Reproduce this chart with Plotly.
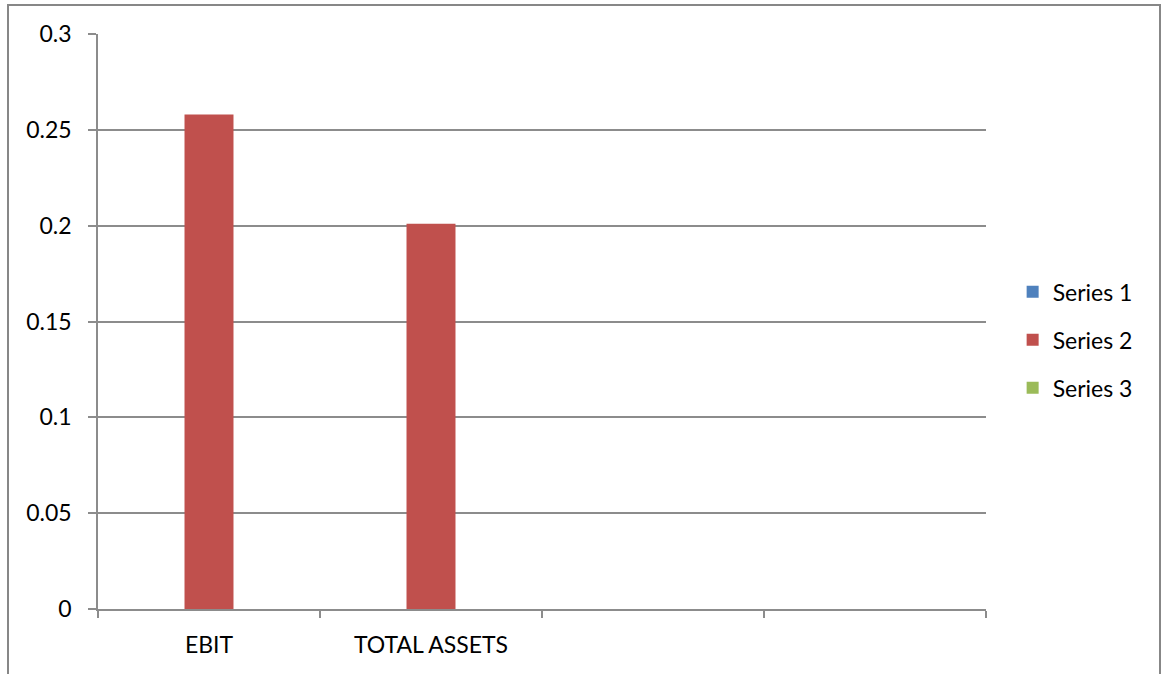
import plotly.graph_objects as go

# Categories (the last two slots are empty in the chart)
categories = ["EBIT", "TOTAL ASSETS", " ", "  "]
series_names = ["Series 1", "Series 2", "Series 3"]
series_1 = [None, None, None, None]
series_2 = [0.258, 0.201, None, None]
series_3 = [None, None, None, None]
y_ticks = [0, 0.05, 0.1, 0.15, 0.2, 0.25, 0.3]

colors = ["#4F81BD", "#C0504D", "#9BBB59"]
grid = "#8C8C8C"
font_family = "Lato, 'Open Sans', sans-serif"

fig = go.Figure()
for name, vals, col in zip(series_names, [series_1, series_2, series_3], colors):
    fig.add_trace(go.Bar(
        x=categories, y=vals, name=name, marker_color=col,
        marker_line_width=0, legendgroup=name,
    ))

fig.update_layout(
    width=1162, height=674,
    margin=dict(l=98, r=176, t=34, b=65),
    paper_bgcolor="white", plot_bgcolor="white",
    barmode="group", bargap=0.338, bargroupgap=0,
    font=dict(family=font_family, size=23, color="black"),
    showlegend=True,
    legend=dict(
        x=1.03, xanchor="left", y=0.468, yanchor="middle",
        font=dict(size=23), tracegroupgap=15, traceorder="grouped",
        itemclick=False,
    ),
    xaxis=dict(
        type="category", categoryorder="array", categoryarray=categories,
        range=[-0.5, 3.5], showgrid=False, showline=True, linecolor=grid,
        linewidth=1.5, ticks="outside", ticklen=7, tickcolor=grid,
        tickwidth=1.5, tickson="boundaries", ticklabelstandoff=15,
        tickfont=dict(size=23), zeroline=False,
    ),
    yaxis=dict(
        range=[0, 0.3], tickvals=y_ticks, ticktext=[str(v) for v in y_ticks],
        showgrid=True, gridcolor=grid, gridwidth=1.5,
        showline=True, linecolor=grid, linewidth=1.5,
        ticks="outside", ticklen=8, tickcolor=grid, tickwidth=1.5,
        ticklabelstandoff=12, tickfont=dict(size=23), zeroline=False,
    ),
)

# Chart-area border
fig.add_shape(
    type="rect", xref="paper", yref="paper",
    x0=(8 - 98) / 888, x1=(1160 - 98) / 888,
    y0=-0.15, y1=(609 - 5) / 575,
    line=dict(color="#878787", width=2), fillcolor="rgba(0,0,0,0)",
    layer="below",
)

fig.write_html("out.html")
